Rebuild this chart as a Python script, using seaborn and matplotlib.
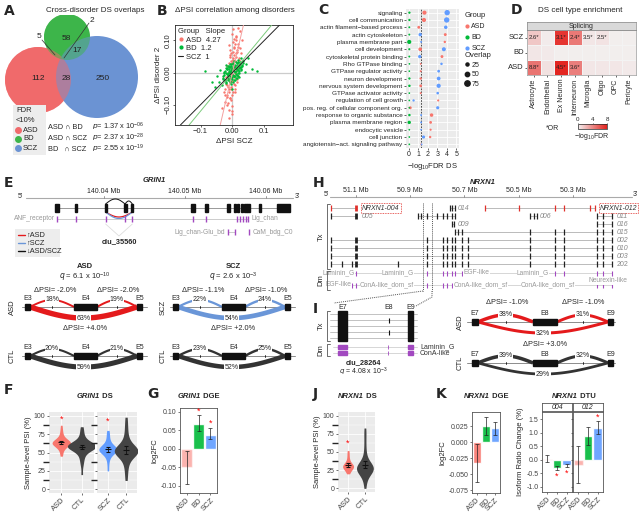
import numpy as np
import pandas as pd
import matplotlib.pyplot as plt
import seaborn as sns
from matplotlib.patches import Circle, Rectangle
from matplotlib.lines import Line2D

# ---------------- data ----------------
groups = ['ASD', 'BD', 'SCZ']
group_colors = ['#F8766D', '#00BA38', '#619CFF']

# A: overlap counts of DS genes (FDR < 10%)
venn_regions = ['ASD', 'BD', 'SCZ', 'ASD&BD', 'ASD&SCZ', 'BD&SCZ', 'ASD&BD&SCZ']
venn_counts = [112, 58, 250, 5, 28, 17, 2]
venn_pairs = ['ASD \u2229 BD', 'ASD \u2229 SCZ', 'BD   \u2229 SCZ']
venn_p = ['1.37 x 10$^{-06}$', '2.37 x 10$^{-28}$', '2.55 x 10$^{-19}$']

# B: dPSI of disorder 2 vs dPSI SCZ
b_slopes = [4.27, 1.2, 1]
asd_dx = [-0.032, -0.026, -0.022, -0.019, -0.016, -0.014, -0.012, -0.010, -0.009, -0.007,
          -0.006, -0.005, -0.004, -0.003, -0.002, -0.001, 0.000, 0.001, 0.002, 0.003,
          0.004, 0.005, 0.006, 0.007, 0.008, 0.009, 0.010, 0.012, 0.014, 0.016,
          0.018, 0.020, 0.023, 0.026, 0.030, -0.018, -0.008, -0.002, 0.004, 0.011,
          -0.024, -0.012, 0.000, 0.013, 0.021, -0.005, 0.007, -0.015, 0.017, 0.002,
          -0.022, -0.018, -0.015, -0.012, -0.010, -0.008, -0.006, -0.004, -0.002, 0.000,
          0.002, 0.004, 0.006, 0.008, 0.010, 0.012, 0.015, 0.018, 0.021, 0.024,
          -0.020, -0.016, -0.013, -0.009, -0.005, -0.001, 0.003, 0.007, 0.011, 0.014,
          0.017, 0.020, -0.011, -0.003, 0.005, 0.013, -0.007, 0.001, 0.009, -0.017]
asd_dy = [-0.110, -0.060, -0.090, -0.035, -0.070, -0.020, -0.050, -0.140, -0.030, -0.010,
          -0.080, 0.015, -0.045, 0.005, -0.025, 0.030, -0.005, 0.040, 0.010, -0.060,
          0.055, 0.020, 0.075, 0.000, 0.090, 0.035, 0.050, 0.110, 0.065, 0.025,
          0.080, 0.045, 0.130, 0.060, 0.100, -0.100, 0.070, -0.120, -0.015, 0.005,
          -0.050, 0.030, 0.120, -0.020, 0.015, 0.060, -0.040, 0.000, 0.140, 0.095,
          -0.070, -0.040, -0.095, -0.060, -0.115, -0.025, -0.080, -0.050, -0.105, -0.070,
          0.045, -0.035, 0.080, 0.035, 0.100, 0.060, 0.070, 0.090, 0.040, 0.075,
          -0.015, 0.020, -0.045, 0.050, 0.035, -0.130, 0.065, -0.060, 0.115, 0.010,
          -0.010, 0.025, 0.085, -0.085, 0.105, -0.030, 0.055, 0.135, -0.050, -0.075]
bd_dx = [-0.085, -0.065, -0.055, -0.048, -0.042, -0.038, -0.033, -0.030, -0.027, -0.024,
         -0.021, -0.019, -0.017, -0.015, -0.013, -0.011, -0.009, -0.007, -0.005, -0.003,
         -0.001, 0.001, 0.003, 0.005, 0.007, 0.009, 0.011, 0.013, 0.015, 0.017,
         0.019, 0.021, 0.024, 0.027, 0.030, 0.034, 0.038, 0.043, 0.050, 0.062,
         0.078, -0.012, -0.004, 0.004, 0.012, -0.020, 0.020, -0.008, 0.008, 0.000,
         -0.028, -0.024, -0.020, -0.017, -0.014, -0.011, -0.008, -0.005, -0.002, 0.001,
         0.004, 0.007, 0.010, 0.013, 0.016, 0.019, 0.022, 0.025, 0.028, 0.031,
         -0.026, -0.022, -0.018, -0.015, -0.012, -0.009, -0.006, -0.003, 0.000, 0.003,
         0.006, 0.009, 0.012, 0.015, 0.018, 0.021, 0.024, 0.027, -0.030, 0.033,
         -0.020, -0.016, -0.013, -0.010, -0.007, -0.004, -0.001, 0.002, 0.005, 0.008,
         0.011, 0.014, 0.017, 0.020, -0.025, 0.026, -0.005, 0.005, -0.015, 0.015]
bd_dy = [0.005, -0.030, -0.045, -0.012, -0.028, 0.008, -0.038, -0.016, 0.000, -0.022,
         0.014, -0.032, -0.004, 0.020, -0.012, 0.010, -0.020, 0.026, 0.002, -0.016,
         0.014, -0.006, 0.030, 0.006, 0.018, -0.010, 0.034, 0.010, 0.024, 0.040,
         0.000, 0.030, 0.016, 0.046, 0.022, 0.036, 0.002, 0.028, 0.044, 0.010,
         0.004, -0.002, 0.008, -0.010, 0.006, 0.024, -0.014, 0.018, -0.024, -0.050,
         -0.020, 0.004, -0.030, 0.012, -0.008, 0.022, -0.026, 0.006, -0.014, 0.026,
         -0.022, 0.016, -0.004, 0.030, -0.012, 0.020, 0.004, 0.034, 0.012, 0.024,
         -0.006, -0.024, 0.010, -0.016, 0.018, -0.030, 0.002, 0.020, -0.020, 0.008,
         -0.010, 0.024, 0.014, -0.006, 0.032, -0.002, 0.026, 0.018, -0.012, 0.030,
         0.000, 0.014, -0.022, 0.006, -0.012, 0.028, 0.012, -0.028, 0.016, 0.002,
         -0.016, 0.022, 0.008, 0.014, 0.002, 0.008, -0.034, 0.036, -0.002, -0.018]

# C: GO enrichment of DS genes
go_terms = ['signaling', 'cell communication', 'actin filament\u2212based process', 'actin cytoskeleton',
            'plasma membrane part', 'cell development', 'cytoskeletal protein binding', 'Rho GTPase binding',
            'GTPase regulator activity', 'neuron development', 'nervous system development',
            'GTPase activator activity', 'regulation of cell growth', 'pos. reg. of cellular component org.',
            'response to organic substance', 'plasma membrane region', 'endocytic vesicle', 'cell junction',
            'angiotensin\u2212act. signaling pathway']
go_asd = [1.65, 1.6, 1.05, 3.85, 3.8, 1.2, 3.5, 1.25, 1.25, 1.25, 1.25, 1.25, 3.1, 0.15, 2.4, 2.3, 2.3, 2.25, 1.3]
go_bd = [0.06, 0.06, 0.05, 0.05, 0.04, 0.05, 0.05, 0.06, 0.05, 0.06, 0.06, 0.05, 0.05, 0.05, 0.06, 0.04, 0.05, 0.05, 0.05]
go_scz = [4.05, 4.0, 3.9, 1.2, 1.3, 3.7, 1.15, 3.45, 3.15, 3.15, 3.15, 3.05, 0.5, 3.05, 1.3, 1.3, 1.3, 1.55, 1.35]
ov_asd = [45, 45, 22, 22, 15, 35, 22, 8, 10, 15, 20, 10, 12, 22, 32, 20, 12, 15, 8]
ov_bd = [14, 14, 10, 10, 45, 12, 10, 8, 8, 14, 16, 8, 8, 8, 16, 30, 8, 8, 8]
ov_scz = [75, 75, 32, 30, 10, 42, 28, 16, 20, 36, 46, 18, 14, 26, 10, 10, 8, 26, 8]

# D: cell type enrichment (-log10 FDR, odds ratios)
cell_types = ['Astrocyte', 'Endothelial', 'Ex Neuron', 'Interneuron', 'Microglia', 'Oligo', 'OPC', 'Pericyte']
d_rows = ['SCZ', 'BD', 'ASD']
d_fdr_scz = [1.6, 0.2, 7.2, 4.6, 0.4, 0.5, 0.1, 0.1]
d_fdr_bd = [0.4, 0.3, 0.1, 0.1, 0.1, 0.1, 0.1, 0.1]
d_fdr_asd = [4.8, 0.6, 7.8, 4.4, 0.4, 0.4, 0.4, 0.3]
d_or_scz = ['2.6*', '', '3.1*', '2.4*', '3.5*', '2.5*', '', '']
d_or_bd = [''] * 8
d_or_asd = ['8.8*', '', '4.5*', '3.6*', '', '', '', '']

# E: GRIN1 gene model (Mb)
grin1_ticks = [140.04, 140.05, 140.06]
grin1_ex_start = [140.0340, 140.0364, 140.0401, 140.0425, 140.0433, 140.0508, 140.0525, 140.0552,
                  140.0560, 140.0564, 140.0569, 140.0573, 140.0577, 140.0591, 140.0613]
grin1_ex_end = [140.0344, 140.0367, 140.0404, 140.0428, 140.0436, 140.0512, 140.0528, 140.0555,
                140.0563, 140.0567, 140.0572, 140.0576, 140.0580, 140.0594, 140.0630]
grin1_dom1 = [140.0342, 140.0365, 140.0402, 140.0426, 140.0435, 140.0510, 140.0526,
              140.0564, 140.0568, 140.0572, 140.0575, 140.0578]
grin1_dom2 = [140.0553, 140.0562, 140.0579]
grin1_cluster = [140.0402, 140.0426, 140.0435]
grin1_sj_exons = [(10, 15), (59, 82), (122, 127)]
grin1_sj_span = (7, 132)
grin1_sj_asd = [18, 19, 63]
grin1_sj_ctl_asd = [20, 21, 59]
grin1_sj_scz = [22, 24, 54]
grin1_sj_ctl_scz = [23, 25, 52]
grin1_dpsi_asd = ['-2.0%', '-2.0%', '+4.0%']
grin1_dpsi_scz = ['-1.1%', '-1.0%', '+2.0%']

# H: NRXN1 transcripts (Mb, minus strand)
nrxn1_ticks = [51.1, 50.9, 50.7, 50.5, 50.3]
nrxn1_full = [51.192, 51.100, 50.838, 50.779, 50.764, 50.746, 50.735, 50.709, 50.687,
              50.458, 50.366, 50.332, 50.211, 50.189, 50.155]
nrxn1_202 = [51.192, 51.152, 51.115, 51.100, 50.945, 50.838, 50.779, 50.764, 50.746, 50.735,
             50.709, 50.687, 50.458, 50.366, 50.332, 50.211, 50.189, 50.155]
tx_labels = ['NRXN1-004', '014', 'NRXN1-012', '005', '', '006', '011', '009', '016', '015',
             '002', '010', '003', '202']
tx_rows = [0, 0, 0, 1, 1, 1, 1, 2, 2, 3, 4, 5, 6, 7]
tx_exons = [[51.192, 51.100], [50.753, 50.746, 50.735],
            [50.624, 50.499, 50.366, 50.332, 50.237, 50.218],
            [51.192, 51.100], [50.871, 50.860, 50.838, 50.801, 50.779, 50.764, 50.746, 50.735],
            [50.458, 50.443, 50.432], [50.211, 50.189, 50.155],
            [50.746, 50.740], [50.211, 50.189, 50.155],
            [50.735, 50.724, 50.709, 50.458, 50.366, 50.332, 50.211, 50.189, 50.155],
            nrxn1_full, nrxn1_full, nrxn1_full, nrxn1_202]
tx_label_pos = [51.078, 50.726, 50.200, 51.078, None, 50.421, 50.137, 50.726, 50.137, 50.137,
                50.137, 50.137, 50.137, 50.137]
tx_red = [True, False, True] + [False] * 11
dom1_labels = ['Laminin_G', 'Laminin_G', 'EGF-like', 'Laminin_G']
dom1_pos = [51.165, 50.945, 50.655, 50.447]
dom2_labels = ['EGF-like', 'ConA-like_dom_sf', 'ConA-like_dom_sf', 'ConA-like_dom_sf']
dom2_pos = [51.165, 50.985, 50.640, 50.392]
nrxn1_cluster = [50.853, 50.820]

# I: zoom on clu_28264 and sashimi
i_exons = [(0, 9), (50, 51), (70, 75)]
i_names = ['E7', 'E8', 'E9']
i_e8_rows = [1, 3]
i_sj_exons = [(10, 16), (71, 95), (146, 151)]
i_sj_span = (5, 153)
nrxn1_sj_asd = [38, 31, 32]
nrxn1_sj_ctl = [39, 32, 29]
nrxn1_dpsi = ['-1.0%', '-1.0%', '+3.0%']

# F / J: sample-level PSI (%)
grin1_psi_asd = [45, 48, 52, 54, 56, 57, 58, 59, 60, 60, 61, 61, 62, 62, 63, 63, 63, 64, 64, 65,
                 65, 66, 66, 67, 68, 69, 70, 72, 75, 78, 82, 87]
grin1_psi_ctl1 = [20, 32, 38, 42, 46, 49, 51, 53, 54, 55, 56, 56, 57, 57, 58, 58, 58, 59, 59, 59,
                  60, 60, 61, 61, 62, 63, 64, 66, 68, 71, 75, 80, 85]
grin1_psi_scz = [25, 35, 42, 46, 48, 50, 51, 52, 53, 53, 54, 54, 54, 55, 55, 56, 57, 58, 60, 62,
                 65, 70, 75, 80]
grin1_psi_ctl2 = [12, 22, 30, 36, 40, 44, 46, 48, 49, 50, 51, 51, 52, 52, 52, 53, 53, 54, 55, 56,
                  58, 60, 63, 67, 72, 80, 88, 98]
nrxn1_psi_asd = [20, 23, 25, 27, 28, 29, 30, 30, 31, 31, 32, 33, 35, 38, 42, 47, 52]
nrxn1_psi_ctl = [0, 8, 14, 18, 21, 23, 24, 25, 26, 26, 27, 27, 28, 28, 29, 29, 30, 31, 32, 34,
                 37, 41, 47, 55, 65, 75, 83]

# G / K: DGE and DTU
grin1_lfc = [-0.050, 0.068, 0.038]
grin1_lo = [-0.095, 0.048, 0.025]
grin1_hi = [-0.005, 0.090, 0.055]
grin1_star = [np.nan, 0.100, 0.068]
nrxn1_lfc = [-0.032, 0.026, 0.022]
nrxn1_lo = [-0.062, 0.012, 0.012]
nrxn1_hi = [-0.002, 0.040, 0.032]
dtu_004 = [0.02, -0.30, -0.20]
dtu_004_lo = [-0.08, -0.38, -0.28]
dtu_004_hi = [0.18, -0.22, -0.14]
dtu_004_star = [np.nan, -0.60, -0.48]
dtu_012 = [-0.18, 0.88, 1.18]
dtu_012_lo = [-0.85, 0.55, 0.95]
dtu_012_hi = [0.50, 1.22, 1.42]
dtu_012_star = [np.nan, np.nan, 1.58]

# ---------------- style ----------------
sns.set_theme(style='white')
plt.rcParams['font.family'] = ['Liberation Sans', 'DejaVu Sans']
plt.rcParams.update({'font.size': 5, 'mathtext.default': 'regular', 'axes.linewidth': 0.6,
                     'xtick.bottom': True, 'ytick.left': True,
                     'xtick.major.size': 1.5, 'ytick.major.size': 1.5,
                     'xtick.major.width': 0.5, 'ytick.major.width': 0.5,
                     'xtick.major.pad': 1, 'ytick.major.pad': 1,
                     'xtick.labelsize': 5, 'ytick.labelsize': 5,
                     'axes.labelsize': 5.5, 'axes.labelpad': 1.5})
W, H = 640, 516
fig = plt.figure(figsize=(W / 100, H / 100), dpi=100)
RED, BLUE, DARK, PURPLE, GREY = '#E41A1C', '#6A96D8', '#333333', '#A249C0', '#999999'


def panel(x0, y0, x1, y1, **kw):
    return fig.add_axes([x0 / W, 1 - y1 / H, (x1 - x0) / W, (y1 - y0) / H], **kw)


# overlay axes in pixel units (drawn on top of all panels)
ov = panel(0, 0, W, H, zorder=10)
ov.set_xlim(0, W)
ov.set_ylim(H, 0)
ov.axis('off')


def ftext(x, y, s, **kw):
    kw.setdefault('ha', 'center')
    kw.setdefault('va', 'center')
    return ov.text(x, y, s, **kw)


def gtitle(x, y, gene, rest='', size=5.5):
    t = ftext(x, y, gene, ha='left', fontsize=size, weight='bold', style='italic')
    if rest:
        ov.annotate(rest, xy=(1, 0.5), xycoords=t, ha='left', va='center', fontsize=size, weight='bold')


for lab, x, y in [('A', 4, 11), ('B', 157, 11), ('C', 318, 10), ('D', 511, 10), ('E', 4, 183),
                  ('H', 313, 183), ('I', 313, 309), ('F', 4, 390), ('G', 147, 394),
                  ('J', 313, 394), ('K', 436, 394)]:
    ftext(x, y, lab, ha='left', fontsize=10, weight='bold', family='DejaVu Sans')

# ---------------- A ----------------
ftext(95, 10, 'Cross-disorder DS overlaps', fontsize=5.8)
axA = panel(0, 15, 160, 165)
axA.set_xlim(0, 160)
axA.set_ylim(165, 15)
axA.axis('off')
circ = {'ASD': (38, 80, 33), 'BD': (67, 37, 23), 'SCZ': (97, 77, 41)}
venn_col = {'ASD': '#F06A6B', 'BD': '#3DB54A', 'SCZ': '#6B93D3'}
for g in ['BD', 'ASD', 'SCZ']:
    cx, cy, r = circ[g]
    axA.add_patch(Circle((cx, cy), r, fc=venn_col[g], ec='none'))
for g in ['ASD', 'BD']:
    cx, cy, r = circ[g]
    axA.add_patch(Circle((cx, cy), r, fc=venn_col[g], ec='none', alpha=0.5))
venn_xy = [(38, 79), (66, 38), (103, 79), (39, 37), (66, 79), (77, 51), (92, 20)]
for (x, y), n in zip(venn_xy, venn_counts):
    axA.text(x, y, str(n), ha='center', va='center', fontsize=6, color='#222')
axA.plot([42, 55], [40, 55], color='#333', lw=0.5)
axA.plot([89, 64], [23, 58], color='#333', lw=0.5)
axA.add_patch(Rectangle((13, 105), 33, 50, fc='#EDEDED', ec='none'))
axA.text(16, 111, 'FDR', fontsize=5.5, va='center')
axA.text(16, 120, '<10%', fontsize=5.5, va='center')
for i, g in enumerate(groups):
    axA.plot(18, 130 + 9 * i, 'o', ms=4, color=venn_col[g])
    axA.text(23, 130 + 9 * i, g, fontsize=5.5, va='center')
for i, (pair, p) in enumerate(zip(venn_pairs, venn_p)):
    axA.text(48, 127 + 11 * i, pair, fontsize=5.3, va='center')
    axA.text(92, 127 + 11 * i, '$\\it{p}$= ' + p, fontsize=5.3, va='center')

# ---------------- B ----------------
ftext(235, 10, '\u0394PSI correlation among disorders', fontsize=5.8)
axB = panel(175, 25, 293, 125)
axB.axhline(0, color='#CCCCCC', lw=0.9, zorder=0)
axB.axvline(0, color='#CCCCCC', lw=0.9, zorder=0)
sns.scatterplot(x=asd_dx, y=asd_dy, color=group_colors[0], s=3, linewidth=0, ax=axB, zorder=2)
sns.scatterplot(x=bd_dx, y=bd_dy, color=group_colors[1], s=3, linewidth=0, ax=axB, zorder=3)
for sl, c in zip(b_slopes, ['#F4A0A0', '#7CCB7C', '#222222']):
    axB.axline((0, 0), slope=sl, color=c, lw=0.7, zorder=4)
axB.set_xlim(-0.18, 0.19)
axB.set_ylim(-0.163, 0.148)
axB.set_xticks([-0.1, 0, 0.1], ['\u22120.1', '0.00', '0.1'])
axB.set_yticks([-0.1, 0, 0.1], ['\u22120.10', '0.00', '0.10'], rotation=90, va='center')
axB.tick_params(labelsize=5.5)
axB.set_xlabel('\u0394PSI SCZ', fontsize=5.8)
axB.set_ylabel('\u0394PSI disorder 2', fontsize=5.8)
hB = [Line2D([], [], marker='o', ls='', ms=2, color=group_colors[0]),
      Line2D([], [], marker='o', ls='', ms=2, color=group_colors[1]),
      Line2D([], [], color='#222', lw=0.8)]
axB.legend(hB, [f'{g}  {s}' for g, s in zip(groups, b_slopes)], title='Group   Slope', loc='upper left',
           frameon=False, fontsize=5.5, title_fontsize=5.5, handlelength=0.7, handletextpad=0.4,
           labelspacing=0.15, borderaxespad=0.2, borderpad=0.2, alignment='left')

# ---------------- C ----------------
axC = panel(406, 9, 459, 148)
axC.set_facecolor('#EBEBEB')
n_go = len(go_terms)
pos = np.arange(n_go)
dfC = pd.DataFrame({'pos': np.tile(pos, 3), 'val': go_asd + go_bd + go_scz,
                    'grp': np.repeat(groups, n_go), 'overlap': ov_asd + ov_bd + ov_scz})
sns.scatterplot(data=dfC, x='val', y='pos', hue='grp', palette=dict(zip(groups, group_colors)),
                size='overlap', sizes=(1, 16), size_norm=(5, 80), linewidth=0, legend=False,
                ax=axC, zorder=3)
axC.axvline(1.3, color='#333', lw=0.6, ls=(0, (2, 1.5)), zorder=2)
axC.set_ylim(n_go - 0.5, -0.5)
axC.set_yticks(pos, go_terms, fontsize=4.6)
axC.set_xlim(-0.3, 5.3)
axC.set_xticks(range(6))
axC.grid(color='white', lw=0.6)
axC.set_axisbelow(True)
for s in axC.spines.values():
    s.set_visible(False)
axC.set_xlabel('\u2212log$_{10}$FDR DS', fontsize=5.5)
axC.set_ylabel('')
hC = [Line2D([], [], marker='o', ls='', ms=2, color=c) for c in group_colors]
lg1 = axC.legend(hC, groups, title='Group', loc='upper left', bbox_to_anchor=(461 / W, 1 - 9 / H),
                 bbox_transform=fig.transFigure, frameon=False, fontsize=5, title_fontsize=5.5,
                 handlelength=0.8, handletextpad=0.2, labelspacing=0.55, borderpad=0, alignment='left')
axC.add_artist(lg1)
hS = [Line2D([], [], marker='o', ls='', ms=np.sqrt(1 + 15 * (v - 5) / 75), color='k') for v in [25, 50, 75]]
axC.legend(hS, ['25', '50', '75'], title='Overlap', loc='upper left', bbox_to_anchor=(461 / W, 1 - 49 / H),
           bbox_transform=fig.transFigure, frameon=False, fontsize=5, title_fontsize=5.5,
           handlelength=0.8, handletextpad=0.2, labelspacing=0.35, borderpad=0, alignment='left')

# ---------------- D ----------------
ftext(580, 10, 'DS cell type enrichment', fontsize=5.8)
axD = panel(527, 30, 636, 75)
cbD = panel(578, 124, 607, 129)
matD = np.array([d_fdr_scz, d_fdr_bd, d_fdr_asd])
annD = np.array([d_or_scz, d_or_bd, d_or_asd])
sns.heatmap(matD, ax=axD, cmap=sns.light_palette('#E3211C', as_cmap=True), vmin=0, vmax=8,
            annot=annD, fmt='', annot_kws={'fontsize': 4.3, 'color': '#222'}, linewidths=0.4,
            linecolor='#F3F3F3', xticklabels=cell_types, yticklabels=d_rows, cbar_ax=cbD,
            cbar_kws={'orientation': 'horizontal', 'ticks': [0, 4, 8]})
axD.tick_params(axis='x', rotation=90, labelsize=5, length=1.5)
axD.tick_params(axis='y', rotation=0, labelsize=5.5, length=1.5)
for s in axD.spines.values():
    s.set_visible(True)
    s.set_color('#999')
    s.set_linewidth(0.5)
cbD.xaxis.set_ticks_position('top')
cbD.tick_params(labelsize=4.5, length=1, pad=0.5)
axD.collections[0].colorbar.outline.set_linewidth(0.5)
stripD = panel(527, 22, 636, 30)
stripD.set_xticks([])
stripD.set_yticks([])
stripD.set_facecolor('#D9D9D9')
for s in stripD.spines.values():
    s.set_color('#888')
    s.set_linewidth(0.5)
stripD.text(0.5, 0.45, 'Splicing', ha='center', va='center', fontsize=5, transform=stripD.transAxes)
ftext(553, 128, '*OR', fontsize=5)
ftext(592, 137, '\u2212log$_{10}$FDR', fontsize=5)

# ---------------- E: GRIN1 track ----------------
gtitle(143, 180, 'GRIN1')
axE = panel(18, 185, 296, 262)
axE.set_xlim(140.029383, 140.063704)
axE.set_ylim(262, 185)
axE.axis('off')
axE.plot([140.0304, 140.0633], [198, 198], color='#AAAAAA', lw=0.8)
for t in grin1_ticks:
    axE.plot([t, t], [198, 195.5], color='#888', lw=0.6)
    axE.text(t, 191.5, f'{t:.2f} Mb', ha='center', va='center', fontsize=5)
axE.text(140.0300, 196, "5'", ha='right', va='center', fontsize=5)
axE.text(140.0636, 196, "3'", ha='left', va='center', fontsize=5)
axE.plot([grin1_ex_start[0], grin1_ex_end[-1]], [208, 208], color='#999', lw=0.7)
for a, b in zip(grin1_ex_start, grin1_ex_end):
    axE.add_patch(Rectangle((a, 204), b - a, 8, color='#111', zorder=3))
c0, c1, c2 = grin1_cluster


def tarc(ax, a, b, base, h, **kw):
    xs = np.linspace(a, b, 60)
    ax.plot(xs, base - h * np.sin(np.pi * (xs - a) / (b - a)), **kw)


tarc(axE, c0, c1, 204, 5, color='#111', lw=0.7)
tarc(axE, c1, c2, 204, 3, color='#111', lw=0.7)
tarc(axE, c0, c2, 212, -5, color=RED, lw=0.9)
tarc(axE, c0, c2, 212, -6.5, color=BLUE, lw=0.9)
axE.plot([grin1_dom1[0], grin1_dom1[-1]], [219, 219], color='#CCCCCC', lw=0.7)
axE.vlines(grin1_dom1, 216, 222, color=PURPLE, lw=1.0)
axE.plot([grin1_dom2[0], grin1_dom2[1]], [232, 232], color='#CCCCCC', lw=0.7)
axE.vlines(grin1_dom2, 229, 235, color=PURPLE, lw=1.0)
axE.text(grin1_dom1[0] - 0.0002, 219, 'ANF_receptor', ha='right', va='center', fontsize=4.8, color=GREY)
axE.text(grin1_dom1[-1] + 0.0004, 219, 'Lig_chan', ha='left', va='center', fontsize=4.8, color=GREY)
axE.text(grin1_dom2[0] - 0.0004, 232, 'Lig_chan-Glu_bd', ha='right', va='center', fontsize=4.8, color=GREY)
axE.text(grin1_dom2[-1] + 0.0004, 232, 'CaM_bdg_C0', ha='left', va='center', fontsize=4.8, color=GREY)
cm = (c0 + c2) / 2
axE.plot([c0, cm, c2], [224, 236, 224], color='#DDDDDD', lw=0.6)
axE.text(cm, 242, 'clu_35560', ha='center', va='center', fontsize=5.3, weight='bold')


# ---------------- sashimi helper ----------------
def sashimi(x0, y0, x1, exons, names, pcts, color, span):
    ax = panel(x0, y0, x1, y0 + 32)
    ax.set_xlim(0, x1 - x0)
    ax.set_ylim(-1.3, 1.0)
    ax.axis('off')
    ax.plot(span, [0, 0], color='#8C8C8C', lw=0.7, zorder=1)
    for (a, b), nm in zip(exons, names):
        h = 0.2 if b - a < 10 else 0.24
        ax.add_patch(Rectangle((a, -h), b - a, 2 * h, color='#111111', zorder=3))
        ax.text((a + b) / 2, 0.58, nm, ha='center', va='center', fontsize=5)
    juncs = [(exons[0][1], exons[1][0], 0.5), (exons[1][1], exons[2][0], 0.5),
             (exons[0][1], exons[2][0], -0.8)]
    for (a, b, h), p in zip(juncs, pcts):
        xs = np.linspace(a, b, 60)
        ax.plot(xs, h * np.sin(np.pi * (xs - a) / (b - a)), color=color, lw=0.4 + 0.055 * p,
                zorder=2, solid_capstyle='butt')
        ax.text((a + b) / 2, h, f'{p}%', ha='center', va='center', fontsize=5, zorder=4,
                bbox=dict(fc='white', ec='none', pad=0.3))
        if h > 0:
            ax.plot([(a + b) / 2] * 2, [-0.09, 0.09], color='#111', lw=0.6, zorder=2)
    return ax


sj_rows = [(15, 293, 150, grin1_sj_asd, RED), (15, 342, 150, grin1_sj_ctl_asd, DARK),
           (163, 293, 298, grin1_sj_scz, BLUE), (163, 342, 298, grin1_sj_ctl_scz, DARK)]
for x0, y0, x1, pc, col in sj_rows:
    sashimi(x0, y0, x1, grin1_sj_exons, ['E3', 'E4', 'E5'], pc, col, grin1_sj_span)
for xc, g, q, dp in [(85, 'ASD', '6.1 x 10$^{-10}$', grin1_dpsi_asd), (233, 'SCZ', '2.6 x 10$^{-3}$', grin1_dpsi_scz)]:
    ftext(xc, 266, g, fontsize=5.5, weight='bold')
    ftext(xc, 277, '$\\it{q}$ = ' + q, fontsize=5.5)
    ftext(xc - 30, 290, '\u0394PSI= ' + dp[0], fontsize=5.3)
    ftext(xc + 33, 290, '\u0394PSI= ' + dp[1], fontsize=5.3)
    ftext(xc, 328, '\u0394PSI= ' + dp[2], fontsize=5.3)
for x, y, s in [(12, 307, 'ASD'), (12, 356, 'CTL'), (163, 307, 'SCZ'), (163, 356, 'CTL')]:
    ftext(x, y, s, rotation=90, fontsize=5.5)

# ---------------- H: NRXN1 track ----------------
gtitle(470, 183, 'NRXN1')
axH = panel(326, 185, 640, 295)
axH.set_xlim(51.2107, 50.0520)
axH.set_ylim(295, 185)
axH.axis('off')
axH.plot([51.196, 50.0815], [197, 197], color='#AAAAAA', lw=0.8)
for t in nrxn1_ticks:
    axH.plot([t, t], [197, 194.5], color='#888', lw=0.6)
    axH.text(t, 190.5, f'{t} Mb', ha='center', va='center', fontsize=5)
axH.text(51.199, 195, "5'", ha='right', va='center', fontsize=5)
axH.text(50.078, 195, "3'", ha='left', va='center', fontsize=5)
for lab, row, ex, lp, red in zip(tx_labels, tx_rows, tx_exons, tx_label_pos, tx_red):
    y = 208 + 8 * row
    axH.plot([max(ex), min(ex)], [y, y], color='#B0B0B0', lw=0.6, zorder=1)
    c = '#E0302B' if red else '#222'
    for e in ex:
        axH.vlines(e, y - 2.8, y + 2.8, color=c, lw=2.0 if e == 51.100 else 0.9, zorder=2)
    if lab:
        kw = dict(fontsize=5, va='center', ha='left', color='#333' if red else '#888',
                  style='normal' if lab == '202' else 'italic')
        if red:
            kw['bbox'] = dict(boxstyle='square,pad=0.15', fc='none', ec='#E0302B', ls=(0, (1, 1)), lw=0.6)
        axH.text(lp, y, lab, **kw)
for y, labs, lps in [(273, dom1_labels, dom1_pos), (285, dom2_labels, dom2_pos)]:
    axH.plot([max(nrxn1_202), min(nrxn1_202)], [y, y], color='#D0D0D0', lw=0.6, zorder=1)
    axH.vlines(nrxn1_202, y - 2.5, y + 2.5, color=PURPLE, lw=0.8, zorder=2)
    for lab, lp in zip(labs, lps):
        axH.text(lp, y, lab, fontsize=4.8, va='center', ha='center', color=GREY, zorder=3,
                 bbox=dict(fc='white', ec='none', pad=0.2))
axH.text(50.17, 281, 'Neurexin-like', fontsize=4.8, va='center', ha='center', color=GREY, zorder=3,
         bbox=dict(fc='white', ec='none', pad=0.2))
axH.vlines(nrxn1_cluster, 203, 291, color='#555', lw=0.7, ls=(0, (1, 1)), zorder=4)

# ---------------- I ----------------
axI = panel(326, 305, 440, 360)
axI.set_xlim(-12, 102)
axI.set_ylim(360, 305)
axI.axis('off')
for r in range(5):
    y = 314 + 6 * r
    axI.plot([-8, 79], [y, y], color='#B8B8B8', lw=0.6, zorder=1)
    if r in i_e8_rows:
        axI.vlines(np.mean(i_exons[1]), y - 2.5, y + 2.5, color='#111', lw=0.8, zorder=2)
for k in (0, 2):
    a, b = i_exons[k]
    axI.add_patch(Rectangle((a, 311), b - a, 30, color='#111', zorder=3))
for (a, b), nm in zip(i_exons, i_names):
    axI.text((a + b) / 2, 307.5, nm, ha='center', va='center', fontsize=5)
for y, lab in [(347, 'Laminin_G'), (353, 'ConA-like')]:
    axI.plot([-5, 79], [y, y], color='#D0D0D0', lw=0.6, zorder=1)
    for k, (a, b) in enumerate(i_exons):
        if k == 1:
            axI.vlines(a, y - 2, y + 2, color=PURPLE, lw=0.6)
        else:
            axI.add_patch(Rectangle((a, y - 2), b - a, 4, color=PURPLE, zorder=3))
    axI.text(82, y, lab, ha='left', va='center', fontsize=5, color='#333')
ftext(363, 363, 'clu_28264', fontsize=5.3, weight='bold')
ftext(363, 372, '$\\it{q}$ = 4.08 x 10$^{-3}$', fontsize=5)
sashimi(462, 308, 620, i_sj_exons, i_names, nrxn1_sj_asd, RED, i_sj_span)
sashimi(462, 349, 620, i_sj_exons, i_names, nrxn1_sj_ctl, DARK, i_sj_span)
ftext(507, 302, '\u0394PSI= ' + nrxn1_dpsi[0], fontsize=5.3)
ftext(583, 302, '\u0394PSI= ' + nrxn1_dpsi[1], fontsize=5.3)
ftext(545, 344, '\u0394PSI= ' + nrxn1_dpsi[2], fontsize=5.3)
ftext(460, 322, 'ASD', rotation=90, fontsize=5.5)
ftext(460, 363, 'CTL', rotation=90, fontsize=5.5)


# ---------------- F / J: violins ----------------
def violin_panel(rect, cats, samples, colors, widths, stars, ylab=True):
    ax = panel(*rect)
    ax.set_facecolor('#EBEBEB')
    for cat, s, c, w in zip(cats, samples, colors, widths):
        sns.violinplot(x=[cat] * len(s), y=s, order=cats, color=c, inner=None, cut=0,
                       density_norm='width', width=w, linewidth=0, saturation=1, bw_adjust=0.8, ax=ax)
    for i, (s, st) in enumerate(zip(samples, stars)):
        m, se = np.mean(s), np.std(s) / np.sqrt(len(s))
        ax.errorbar(i, m, yerr=1.5 * se, fmt='_', color='#111', ms=4, mew=0.8, elinewidth=0.6,
                    capsize=1.2, capthick=0.5, zorder=5)
        if not np.isnan(st):
            ax.text(i, st, '*', color='red', ha='center', va='center', fontsize=6.5)
    ax.set_ylim(-5, 105)
    ax.set_xlim(-0.6, len(cats) - 0.4)
    ax.set_yticks([0, 25, 50, 75, 100])
    ax.set_yticks([12.5, 37.5, 62.5, 87.5], minor=True)
    ax.grid(which='major', color='white', lw=0.6)
    ax.grid(which='minor', axis='y', color='white', lw=0.3)
    ax.set_axisbelow(True)
    for sp in ax.spines.values():
        sp.set_visible(False)
    ax.set_xticks(range(len(cats)), cats, rotation=45, ha='right', rotation_mode='anchor', fontsize=5.5)
    ax.tick_params(colors='#333', labelcolor='#444')
    ax.set_xlabel('')
    if ylab:
        ax.set_ylabel('Sample-level PSI (%)', fontsize=5.5)
    else:
        ax.set_yticklabels([])
        ax.set_ylabel('')
    return ax


gtitle(77, 397, 'GRIN1', ' DS')
violin_panel((49, 412, 94, 493), ['ASD', 'CTL'], [grin1_psi_asd, grin1_psi_ctl1],
             [group_colors[0], '#444444'], [0.9, 1.4], [95, np.nan])
violin_panel((97, 412, 137, 493), ['SCZ', 'CTL'], [grin1_psi_scz, grin1_psi_ctl2],
             [group_colors[2], '#444444'], [1.0, 1.3], [92, np.nan], ylab=False)
gtitle(338, 397, 'NRXN1', ' DS')
violin_panel((338, 412, 375, 492), ['ASD', 'CTL'], [nrxn1_psi_asd, nrxn1_psi_ctl],
             [group_colors[0], '#444444'], [0.65, 1.0], [62, np.nan])


# ---------------- G / K: bars ----------------
def bar_panel(rect, vals, lo, hi, stars, alphas, ylim, ticks, ticklabels, ylabel=None):
    ax = panel(*rect)
    sns.barplot(x=groups, y=vals, hue=groups, palette=group_colors, width=0.92, legend=False,
                saturation=1, ax=ax)
    for p, a in zip(ax.patches, alphas):
        p.set_alpha(a)
    v = np.array(vals)
    ax.errorbar(range(3), v, yerr=[v - np.array(lo), np.array(hi) - v], fmt='none', ecolor='#222',
                elinewidth=0.5, capsize=1.2, capthick=0.5)
    for i, st in enumerate(stars):
        if not np.isnan(st):
            ax.text(i, st, '*', color='red', ha='center', va='center', fontsize=6.5)
    ax.set_ylim(*ylim)
    ax.set_xlim(-0.55, 2.55)
    if ticks is not None:
        ax.set_yticks(ticks, ticklabels)
    else:
        ax.set_yticks([-1, -0.5, 0, 0.5, 1, 1.5], [])
    ax.set_xticks(range(3), groups, rotation=45, ha='right', rotation_mode='anchor', fontsize=5.5)
    for sp in ax.spines.values():
        sp.set_color('#555')
        sp.set_linewidth(0.6)
    ax.tick_params(labelcolor='#444', colors='#444')
    ax.set_ylabel(ylabel if ylabel else '', fontsize=5.5)
    return ax


gtitle(178, 397, 'GRIN1', ' DGE')
bar_panel((180, 408, 217, 493), grin1_lfc, grin1_lo, grin1_hi, grin1_star, [0.55, 0.9, 0.9],
          (-0.12, 0.11), [-0.1, -0.05, 0, 0.05, 0.1], ['-0.10', '-0.05', '0.00', '0.05', '0.10'], 'log2FC')
gtitle(464, 397, 'NRXN1', ' DGE')
bar_panel((472, 412, 500, 493), nrxn1_lfc, nrxn1_lo, nrxn1_hi, [np.nan] * 3, [0.9, 0.9, 0.9],
          (-0.079, 0.047), [-0.075, -0.05, -0.025, 0, 0.025], ['-0.075', '-0.050', '-0.025', '0.000', '0.025'],
          'log2FC')
gtitle(552, 397, 'NRXN1', ' DTU')
bar_panel((542, 412, 572, 492), dtu_004, dtu_004_lo, dtu_004_hi, dtu_004_star, [0.9, 0.9, 0.9],
          (-1.19, 1.76), [-1, -0.5, 0, 0.5, 1, 1.5], ['-1.0', '-0.5', '0.0', '0.5', '1.0', '1.5'],
          'Isoform Ratio Change (%)')
bar_panel((573, 412, 603, 492), dtu_012, dtu_012_lo, dtu_012_hi, dtu_012_star, [0.55, 0.9, 0.9],
          (-1.19, 1.76), None, None)
for (x0, x1), lab in zip([(542, 572), (573, 603)], ['004', '012']):
    st = panel(x0, 403, x1, 411)
    st.set_xticks([])
    st.set_yticks([])
    st.set_facecolor('white')
    for sp in st.spines.values():
        sp.set_color('#555')
        sp.set_linewidth(0.6)
    st.text(0.5, 0.45, lab, ha='center', va='center', fontsize=5, style='italic', transform=st.transAxes)

# ---------------- overlay: legend box E, brackets, connectors ----------------
ov.add_patch(Rectangle((15, 229), 45, 28, fc='#EDEDED', ec='none', zorder=0))
for i, (c, s) in enumerate([(RED, '\u2191ASD'), (BLUE, '\u2191SCZ'), ('#111', '\u2193ASD/SCZ')]):
    y = 235 + 8 * i
    ov.plot([18, 25], [y, y], color=c, lw=1.0)
    ov.text(26, y, s, fontsize=5.3, va='center')


def bracket(x, y0, y1, lab):
    ov.plot([x + 2.5, x, x, x + 2.5], [y0, y0, y1, y1], color='#555', lw=0.6)
    ov.text(x - 6, (y0 + y1) / 2, lab, rotation=90, ha='center', va='center', fontsize=5.5)


bracket(327, 204, 269, 'Tx')
bracket(327, 271, 290, 'Dm')
bracket(327, 311, 341, 'Tx')
bracket(327, 344, 356, 'Dm')
ov.plot([423, 334], [291, 303], color='#555', lw=0.7, ls=(0, (1, 1)))
ov.plot([432, 432, 416], [291, 297, 306], color='#555', lw=0.7, ls=(0, (1, 1)))

fig.savefig('out.png', dpi=100)
